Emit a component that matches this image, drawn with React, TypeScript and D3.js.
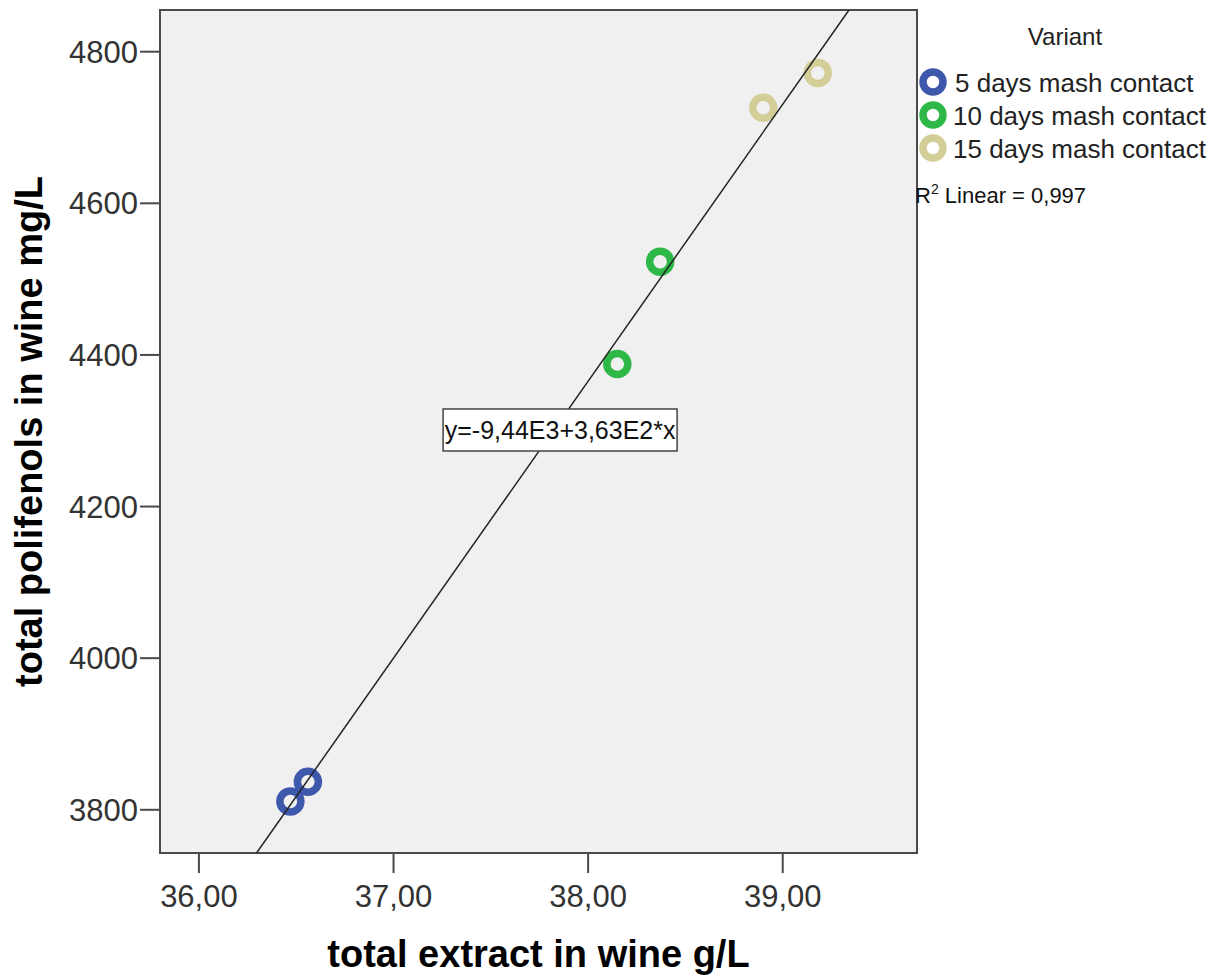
import React, { useEffect, useRef } from 'react';
import * as d3 from 'd3';

// data
const variants = ['5 days mash contact', '10 days mash contact', '15 days mash contact'];
const colors = ['#3E58AC', '#2EB848', '#D3CE97'];
const extract = [36.47, 36.56, 38.15, 38.37, 38.9, 39.18];
const polifenols = [3811, 3837, 4388, 4523, 4726, 4772];
const variantOf = [0, 0, 1, 1, 2, 2];
const xTicks = [36, 37, 38, 39];
const yTicks = [3800, 4000, 4200, 4400, 4600, 4800];
const fitLabel = 'y=-9,44E3+3,63E2*x';
const r2Label = '0,997';

const W = 1222, H = 978;
const font = '"Liberation Sans", Arial, sans-serif';

export default function App() {
  const ref = useRef<SVGSVGElement>(null);

  useEffect(() => {
    const svg = d3.select(ref.current);
    svg.selectAll('*').remove();

    const margin = { top: 10, right: 305, bottom: 125, left: 160 };
    const x = d3.scaleLinear().domain([35.8, 39.69]).range([margin.left, W - margin.right]);
    const y = d3.scaleLinear().domain([3743, 4855]).range([H - margin.bottom, margin.top]);
    const [x0, x1] = x.range();
    const [y0, y1] = y.range();

    // plot background
    svg.append('rect')
      .attr('x', x0).attr('y', y1)
      .attr('width', x1 - x0).attr('height', y0 - y1)
      .attr('fill', '#f0f0f0')
      .attr('stroke', '#4a4a4a').attr('stroke-width', 2);

    // x axis
    const gx = svg.append('g');
    gx.selectAll('line').data(xTicks).enter().append('line')
      .attr('x1', d => x(d)).attr('x2', d => x(d))
      .attr('y1', y0).attr('y2', y0 + 20)
      .attr('stroke', '#4a4a4a').attr('stroke-width', 2);
    gx.selectAll('text').data(xTicks).enter().append('text')
      .attr('x', d => x(d)).attr('y', y0 + 54)
      .attr('text-anchor', 'middle')
      .attr('font-family', font).attr('font-size', 31).attr('fill', '#333')
      .text(d => d3.format('.2f')(d).replace('.', ','));

    // y axis
    const gy = svg.append('g');
    gy.selectAll('line').data(yTicks).enter().append('line')
      .attr('x1', x0 - 20).attr('x2', x0)
      .attr('y1', d => y(d)).attr('y2', d => y(d))
      .attr('stroke', '#4a4a4a').attr('stroke-width', 2);
    gy.selectAll('text').data(yTicks).enter().append('text')
      .attr('x', x0 - 22).attr('y', d => y(d) + 11)
      .attr('text-anchor', 'end')
      .attr('font-family', font).attr('font-size', 31).attr('fill', '#333')
      .text(d => d);

    // axis titles
    svg.append('text')
      .attr('x', (x0 + x1) / 2).attr('y', 967)
      .attr('text-anchor', 'middle')
      .attr('font-family', font).attr('font-size', 38).attr('font-weight', 'bold')
      .attr('fill', '#000')
      .text('total extract in wine g/L');
    svg.append('text')
      .attr('transform', `translate(42,${(y0 + y1) / 2}) rotate(-90)`)
      .attr('text-anchor', 'middle')
      .attr('font-family', font).attr('font-size', 38).attr('font-weight', 'bold')
      .attr('fill', '#000')
      .text('total polifenols in wine mg/L');

    // points
    const pts = extract.map((e, i) => ({ e, p: polifenols[i], v: variantOf[i] }));
    svg.append('g').selectAll('circle').data(pts).enter().append('circle')
      .attr('cx', d => x(d.e)).attr('cy', d => y(d.p))
      .attr('r', 10.5)
      .attr('fill', 'none')
      .attr('stroke', d => colors[d.v]).attr('stroke-width', 7.5);

    // linear fit (least squares on the points)
    const mx = d3.mean(extract) as number;
    const my = d3.mean(polifenols) as number;
    const sxy = d3.sum(extract, (e, i) => (e - mx) * (polifenols[i] - my));
    const sxx = d3.sum(extract, e => (e - mx) * (e - mx));
    const slope = sxy / sxx;
    const icpt = my - slope * mx;
    const fx = (v: number) => (v - icpt) / slope;
    const xa = Math.max(x.domain()[0], fx(y.domain()[0]));
    const xb = Math.min(x.domain()[1], fx(y.domain()[1]));

    const clip = svg.append('clipPath').attr('id', 'plotclip');
    clip.append('rect').attr('x', x0).attr('y', y1).attr('width', x1 - x0).attr('height', y0 - y1);
    svg.append('line')
      .attr('clip-path', 'url(#plotclip)')
      .attr('x1', x(xa)).attr('y1', y(icpt + slope * xa))
      .attr('x2', x(xb)).attr('y2', y(icpt + slope * xb))
      .attr('stroke', '#222').attr('stroke-width', 1.5);

    // fit label box
    const lx = x(37.856), ly = y(4301);
    const lab = svg.append('g');
    lab.append('rect')
      .attr('x', lx - 117).attr('y', ly - 21)
      .attr('width', 234).attr('height', 42)
      .attr('fill', '#fff').attr('stroke', '#444').attr('stroke-width', 1.5);
    lab.append('text')
      .attr('x', lx).attr('y', ly + 9)
      .attr('text-anchor', 'middle')
      .attr('font-family', font).attr('font-size', 25).attr('fill', '#111')
      .text(fitLabel);

    // legend
    const lg = svg.append('g');
    lg.append('text')
      .attr('x', 1065).attr('y', 45)
      .attr('text-anchor', 'middle')
      .attr('font-family', font).attr('font-size', 24).attr('fill', '#222')
      .text('Variant');
    const rows = lg.selectAll('g.row').data(variants).enter().append('g')
      .attr('class', 'row')
      .attr('transform', (d, i) => `translate(0,${82 + i * 33})`);
    rows.append('circle')
      .attr('cx', 933).attr('cy', 0).attr('r', 10)
      .attr('fill', 'none')
      .attr('stroke', (d, i) => colors[i]).attr('stroke-width', 7.5);
    rows.append('text')
      .attr('x', (d, i) => (i === 0 ? 955 : 953)).attr('y', 10)
      .attr('font-family', font).attr('font-size', 26).attr('fill', '#222')
      .text(d => d);

    const r2 = lg.append('text')
      .attr('x', 915).attr('y', 203)
      .attr('font-family', font).attr('font-size', 22).attr('fill', '#111');
    r2.append('tspan').text('R');
    r2.append('tspan').attr('font-size', 14).attr('dy', -9).text('2');
    r2.append('tspan').attr('dy', 9).text(` Linear = ${r2Label}`);
  }, []);

  return (
    <svg ref={ref} width={W} height={H}
      style={{ position: 'absolute', left: 0, top: 0, display: 'block', background: '#fff' }} />
  );
}
